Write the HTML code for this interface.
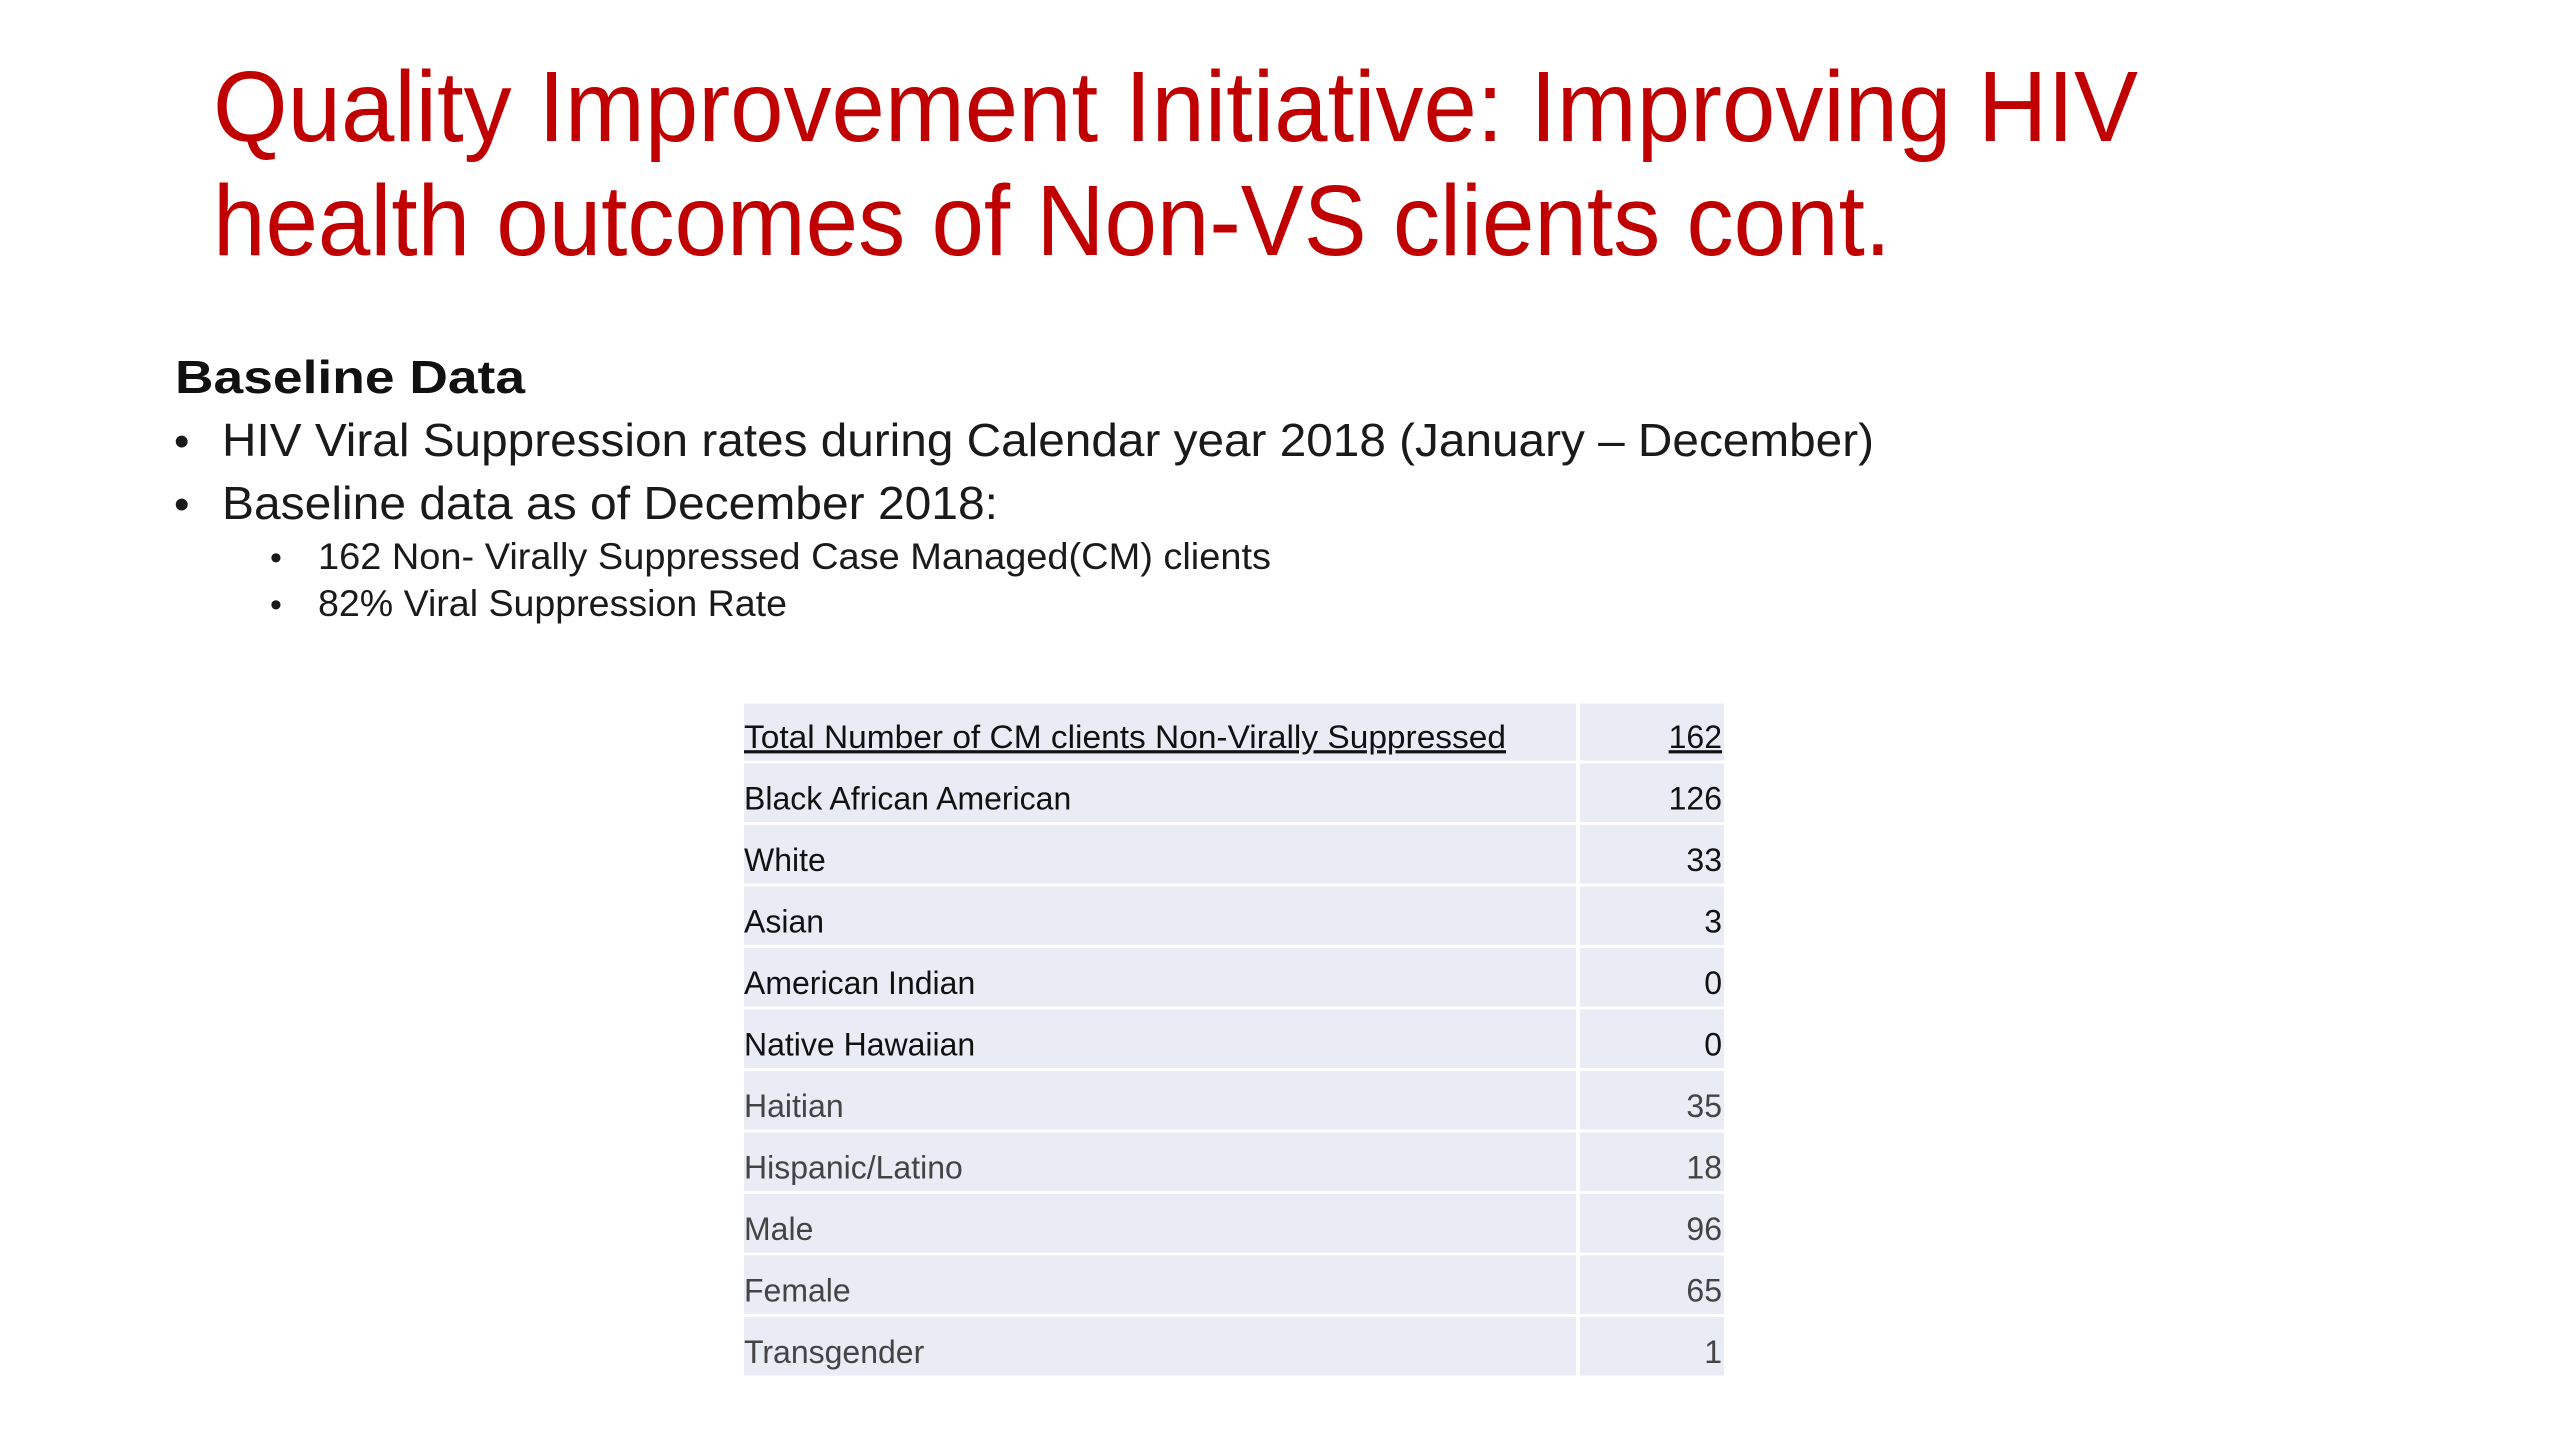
<!DOCTYPE html>
<html><head><meta charset="utf-8"><style>
html,body{margin:0;padding:0;background:#fff;}
svg{display:block;font-family:"Liberation Sans",sans-serif;}
</style></head><body>
<svg id="s" width="2560" height="1440" viewBox="0 0 2560 1440">
<rect width="2560" height="1440" fill="#fff"/>
<g fill="#c00000" font-size="100">
<text x="213" y="141" textLength="1925" lengthAdjust="spacingAndGlyphs">Quality Improvement Initiative: Improving HIV</text>
<text x="213" y="255" textLength="1678" lengthAdjust="spacingAndGlyphs">health outcomes of Non-VS clients cont.</text>
</g>
<text x="175" y="393" font-size="46" font-weight="bold" fill="#111" textLength="350" lengthAdjust="spacingAndGlyphs">Baseline Data</text>
<g fill="#1a1a1a">
<text x="174" y="456" font-size="44">•</text>
<text x="222" y="456" font-size="46" textLength="1652" lengthAdjust="spacingAndGlyphs">HIV Viral Suppression rates during Calendar year 2018 (January – December)</text>
<text x="174" y="519" font-size="44">•</text>
<text x="222" y="519" font-size="46" textLength="776" lengthAdjust="spacingAndGlyphs">Baseline data as of December 2018:</text>
<text x="270" y="569" font-size="34">•</text>
<text x="318" y="569" font-size="37" textLength="953" lengthAdjust="spacingAndGlyphs">162 Non- Virally Suppressed Case Managed(CM) clients</text>
<text x="270" y="616" font-size="34">•</text>
<text x="318" y="616" font-size="37" textLength="469" lengthAdjust="spacingAndGlyphs">82% Viral Suppression Rate</text>
</g>
<g id="tbl"></g>
</svg>
<script>
const labels = ["Total Number of CM clients Non-Virally Suppressed","Black African American","White","Asian","American Indian","Native Hawaiian","Haitian","Hispanic/Latino","Male","Female","Transgender"];
const values = [162,126,33,3,0,0,35,18,96,65,1];
const dark = [true,true,true,true,true,true,false,false,false,false,false];
const NS="http://www.w3.org/2000/svg";
const g=document.getElementById('tbl');
const left=744,split=1578,right=1724,top0=702,headH=60,rowH=61.5;
function rowTop(i){return i===0?top0:top0+headH+(i-1)*rowH;}
function rowHt(i){return i===0?headH:rowH;}
labels.forEach((lab,i)=>{
  const y=rowTop(i),h=rowHt(i);
  const row=document.createElementNS(NS,'g');
  
  
  const r1=document.createElementNS(NS,'rect');
  
  
  r1.setAttribute('x',left);r1.setAttribute('y',y+1.5);r1.setAttribute('width',split-left-2);r1.setAttribute('height',h-3);r1.setAttribute('fill','#e9ebf5');
  const r2=document.createElementNS(NS,'rect');
  
  
  r2.setAttribute('x',split+2);r2.setAttribute('y',y+1.5);r2.setAttribute('width',right-split-2);r2.setAttribute('height',h-3);r2.setAttribute('fill','#e9ebf5');
  const col=dark[i]?'#111':'#444';
  const t=document.createElementNS(NS,'text');
  
  
  t.setAttribute('x',left);t.setAttribute('y',y+h*0.77);t.setAttribute('font-size','32');t.setAttribute('fill',col);
  if(i===0){t.setAttribute('textLength','762');t.setAttribute('lengthAdjust','spacingAndGlyphs');t.setAttribute('text-decoration','underline');}
  t.textContent=lab;
  const v=document.createElementNS(NS,'text');
  
  
  v.setAttribute('x',right-2);v.setAttribute('y',y+h*0.77);v.setAttribute('font-size','32');v.setAttribute('fill',col);v.setAttribute('text-anchor','end');
  if(i===0)v.setAttribute('text-decoration','underline');
  v.textContent=values[i];
  row.append(r1,r2,t,v);g.appendChild(row);
});
</script>
</body></html>
